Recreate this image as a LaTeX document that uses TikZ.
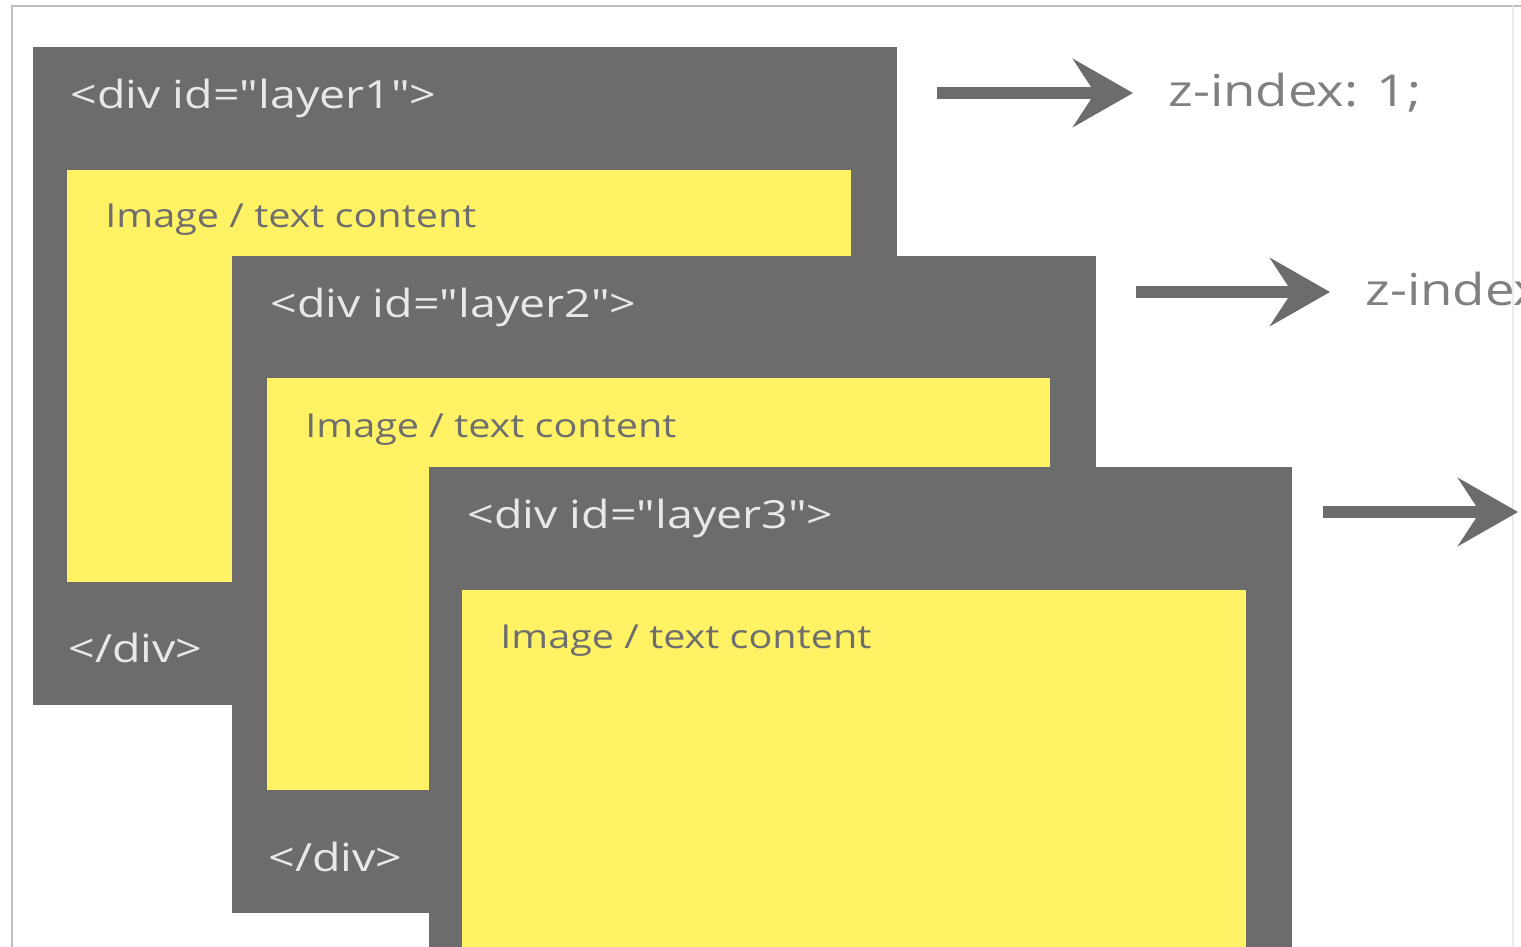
\documentclass[tikz,border=0pt]{standalone}
\usepackage{fontspec}
\setmainfont{Open Sans}
\newfontfamily\handfont[FakeStretch=1.2]{Open Sans}
\usetikzlibrary{arrows.meta}
\definecolor{boxgray}{RGB}{108,108,108}
\definecolor{boxyellow}{RGB}{255,242,100}
\definecolor{lighttext}{RGB}{232,232,232}
\definecolor{darktext}{RGB}{110,110,110}
\definecolor{ztext}{RGB}{128,128,128}
\definecolor{framegray}{RGB}{190,190,190}
\newcommand{\qt}{\symbol{34}}
\tikzset{
  graybox/.style={fill=boxgray},
  yellowbox/.style={fill=boxyellow},
  tagtext/.style={anchor=west, inner sep=0pt, text=lighttext, font=\handfont\fontsize{19.4}{22}\selectfont},
  contenttext/.style={anchor=west, inner sep=0pt, text=darktext, font=\handfont\fontsize{16.5}{20}\selectfont},
  ztxt/.style={anchor=west, inner sep=0pt, text=ztext, font=\handfont\fontsize{22}{26}\selectfont},
  zarrow/.style={draw=boxgray, line width=6pt, -{Stealth[length=30pt, width=34pt, inset=11pt]}},
}
\begin{document}
\begin{tikzpicture}[x=0.5pt, y=-0.5pt]
\clip (0,0) rectangle (1521,947);
\fill[white] (0,0) rectangle (1521,947);
% frame
\draw[framegray, line width=1.2pt] (12,947) -- (12,6) -- (1521,6);
\draw[framegray!30, line width=0.8pt] (1513,6) -- (1513,947);
% layer 1
\fill[graybox] (33,47) rectangle (897,705);
\fill[yellowbox] (67,170) rectangle (851,582);
\node[tagtext] (open1) at (70,98) {<div id=\qt layer1\qt>};
\node[contenttext] (img1) at (105,220) {Image / text content};
\node[tagtext] (close1) at (68,648) {</div>};
% layer 2
\fill[graybox] (232,256) rectangle (1096,913);
\fill[yellowbox] (267,378) rectangle (1050,790);
\node[tagtext] (open2) at (270,307) {<div id=\qt layer2\qt>};
\node[contenttext] (img2) at (305,430) {Image / text content};
\node[tagtext] (close2) at (268,857) {</div>};
% layer 3
\fill[graybox] (429,467) rectangle (1292,960);
\fill[yellowbox] (462,590) rectangle (1246,960);
\node[tagtext] (open3) at (467,518) {<div id=\qt layer3\qt>};
\node[contenttext] (img3) at (500,641) {Image / text content};
% arrows and z-index labels
\coordinate (a1) at (937,93);
\coordinate (a2) at (1136,292);
\coordinate (a3) at (1323,512);
\coordinate (e3) at (1518,512);
\node[ztxt] (z1) at (1168,93) {z-index: 1;};
\node[ztxt] (z2) at (1365,292) {z-index: 2;};
\draw[zarrow] (a1) -- ([xshift=-17.5pt]z1.west);
\draw[zarrow] (a2) -- ([xshift=-17.5pt]z2.west);
\draw[zarrow] (a3) -- (e3);
\end{tikzpicture}
\end{document}
